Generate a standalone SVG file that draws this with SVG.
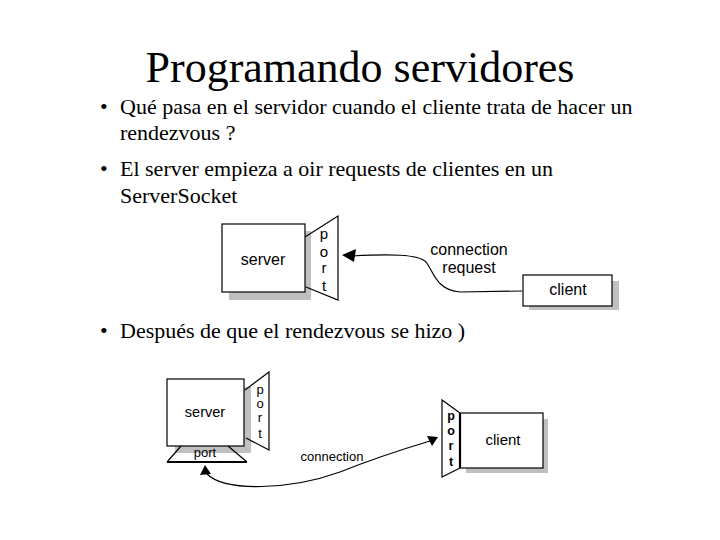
<svg xmlns="http://www.w3.org/2000/svg" width="720" height="540" viewBox="0 0 720 540">
<style>
.t{font-family:"Liberation Serif","Times New Roman",serif;fill:#000}
.s{font-family:"Liberation Sans",Arial,sans-serif;fill:#000;text-anchor:middle}
.box{fill:#fff;stroke:#000;stroke-width:1.2}
.sh{fill:#c0c0c0}
.ln{fill:none;stroke:#000;stroke-width:1.2}
</style>
<rect width="720" height="540" fill="#fff"/>
<text class="t" x="360" y="82" font-size="44" text-anchor="middle">Programando servidores</text>
<g class="t" font-size="22">
<text x="100" y="114">•</text>
<text x="120" y="114">Qué pasa en el servidor cuando el cliente trata de hacer un</text>
<text x="120" y="140">rendezvous ?</text>
<text x="100" y="176">•</text>
<text x="120" y="176">El server empieza a oir requests de clientes en un</text>
<text x="120" y="203">ServerSocket</text>
<text x="100" y="338">•</text>
<text x="120" y="338">Después de que el rendezvous se hizo )</text>
</g>
<!-- Diagram 1 -->
<g id="server1">
<rect class="sh" x="229" y="231" width="82" height="69"/>
<rect class="box" x="222" y="224" width="83" height="68"/>
<text class="s" x="263" y="265" font-size="16">server</text>
</g>
<g id="port1">
<polyline class="ln" points="305,237 338,216 338,300 306,287"/>
<g class="s" font-size="15">
<text x="324" y="239">p</text>
<text x="324" y="257">o</text>
<text x="324" y="273">r</text>
<text x="324" y="291">t</text>
</g>
</g>
<g id="client1">
<rect class="sh" x="529" y="281" width="90" height="29"/>
<rect class="box" x="523" y="275" width="89" height="31"/>
<text class="s" x="568" y="295" font-size="16">client</text>
</g>
<!-- Diagram 2 -->
<g id="server2">
<rect class="sh" x="175" y="387" width="76" height="66"/>
<rect class="box" x="167" y="379" width="77" height="67"/>
<text class="s" x="205" y="417" font-size="14.5">server</text>
</g>
<g id="port2">
<polyline class="ln" points="245,390 269,372 269,450 246,438"/>
<g class="s" font-size="13">
<text x="260" y="394">p</text>
<text x="260" y="408">o</text>
<text x="260" y="422">r</text>
<text x="260" y="438">t</text>
</g>
</g>
<g id="port3">
<polyline class="ln" points="181,446 167,462"/>
<polyline class="ln" points="228,446 247,462"/>
<line x1="167" y1="462" x2="247" y2="462" stroke="#000" stroke-width="2"/>
<text class="s" x="205" y="457" font-size="13">port</text>
</g>
<g id="client2">
<rect class="sh" x="466" y="419" width="82" height="54"/>
<rect class="box" x="460" y="413" width="83" height="55"/>
<line x1="460" y1="413" x2="460" y2="468" stroke="#000" stroke-width="2.2"/>
<text class="s" x="503" y="445" font-size="15">client</text>
</g>
<g id="port4">
<polyline class="ln" points="460,413 442,400 442,477 460,468"/>
<g class="s" font-size="12.5" font-weight="bold">
<text x="451" y="420">p</text>
<text x="451" y="435">o</text>
<text x="451" y="450">r</text>
<text x="451" y="466">t</text>
</g>
</g>
<g id="connectors">
<path class="ln" d="M352,256 C390,254 418,254 426,262 C434,272 436,290 460,292 L522,291"/>
<polygon points="342,255 356,249 354,262" fill="#000"/>
<text class="s" x="469" y="255" font-size="16">connection</text>
<text class="s" x="469" y="273" font-size="16">request</text>
<path class="ln" d="M207,474 C225,492 290,490 340,472 C375,458 400,450 430,441"/>
<polygon points="205,465 200,475 211,474" fill="#000"/>
<polygon points="438,437 427,436 432,446" fill="#000"/>
<text class="s" x="332" y="461" font-size="13">connection</text>
</g>
</svg>
